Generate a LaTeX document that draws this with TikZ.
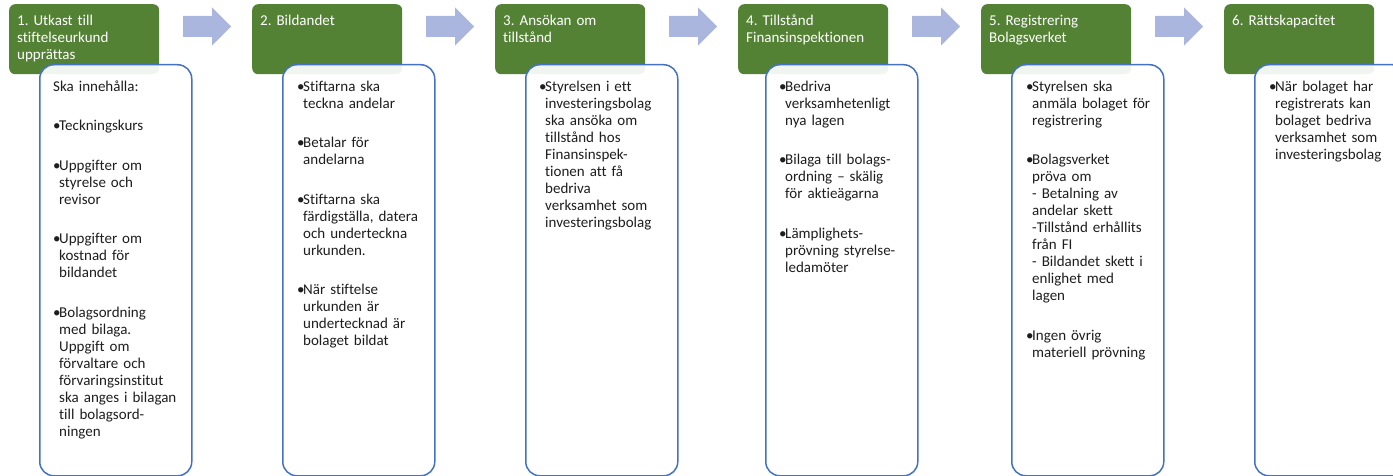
\documentclass[tikz,border=0pt]{standalone}
\usepackage{fontspec}
\setmainfont{Carlito}[Ligatures={TeX,NoCommon}]
\usetikzlibrary{calc}

\definecolor{hdrgreen}{RGB}{84,130,53}
\definecolor{boxblue}{RGB}{68,114,196}
\definecolor{flowarrow}{RGB}{170,182,221}
\definecolor{bodyink}{RGB}{30,30,30}

\frenchspacing
% fixed first-line height so that baselines sit at known offsets
\newcommand\firstline{\rule{0pt}{12pt}}
% bulleted paragraph with hanging indent
\newcommand\bpt[1]{\noindent\hangindent=6pt\hangafter=1\firstline\makebox[6pt][l]{\textbullet}\ignorespaces#1\par}
% paragraph without bullet
\newcommand\plain[1]{\noindent\firstline#1\par}
\newcommand\gap{\vspace{22.5pt}}

\tikzset{
  header/.style={anchor=north west, rectangle, rounded corners=6pt, fill=hdrgreen,
    minimum width=150pt, minimum height=70pt, inner sep=0pt},
  headtext/.style={anchor=north west, inner sep=0pt, text width=140pt, text=white,
    font=\fontsize{15}{17}\selectfont, execute at begin node={\raggedright\parindent=0pt}},
  panel/.style={anchor=north west, rectangle, rounded corners=14pt, draw=boxblue,
    line width=1.5pt, fill=white, fill opacity=0.92, minimum width=152pt,
    minimum height=411pt, inner sep=0pt},
  paneltext/.style={anchor=north west, inner sep=0pt, text width=135pt, text=bodyink,
    font=\fontsize{15}{17}\selectfont,
    execute at begin node={\raggedright\parskip=0pt\parindent=0pt}},
  flow/.style={fill=flowarrow}
}

\begin{document}
\begin{tikzpicture}[x=1pt, y=-1pt]
\useasboundingbox (0,0) rectangle (1393,476);
\clip (0,0) rectangle (1393,476);

% step headers
\node[header] (h1) at (9,4) {};
\node[header] (h2) at (252,4) {};
\node[header] (h3) at (495,4) {};
\node[header] (h4) at (738,4) {};
\node[header] (h5) at (981,4) {};
\node[header] (h6) at (1224,4) {};

% detail panels, partly covering the headers
\node[panel] (p1) at (39,64) {};
\node[panel] (p2) at (282,64) {};
\node[panel] (p3) at (525,64) {};
\node[panel] (p4) at (765,64) {};
\node[panel] (p5) at (1011,64) {};
\node[panel] (p6) at (1254,64) {};

% header titles
\node[headtext] (t1) at ($(h1.north west)+(8,9)$) {\plain{1. Utkast till\newline stiftelseurkund\newline upprättas}};
\node[headtext] (t2) at ($(h2.north west)+(8,9)$) {\plain{2. Bildandet}};
\node[headtext] (t3) at ($(h3.north west)+(8,9)$) {\plain{3. Ansökan om\newline tillstånd}};
\node[headtext] (t4) at ($(h4.north west)+(8,9)$) {\plain{4. Tillstånd\newline Finansinspektionen}};
\node[headtext] (t5) at ($(h5.north west)+(8,9)$) {\plain{5. Registrering\newline Bolagsverket}};
\node[headtext] (t6) at ($(h6.north west)+(8,9)$) {\plain{6. Rättskapacitet}};

% panel contents
\node[paneltext] (c1) at ($(p1.north west)+(14,15)$) {%
  \plain{Ska innehålla:}\gap
  \bpt{Teckningskurs}\gap
  \bpt{Uppgifter om\newline styrelse och\newline revisor}\gap
  \bpt{Uppgifter om\newline kostnad för\newline bildandet}\gap
  \bpt{Bolagsordning\newline med bilaga.\newline Uppgift om\newline förvaltare och\newline förvaringsinstitut\newline ska anges i bilagan\newline till bolagsord-\newline ningen}};

\node[paneltext] (c2) at ($(p2.north west)+(15,15)$) {%
  \bpt{Stiftarna ska\newline teckna andelar}\gap
  \bpt{Betalar för\newline andelarna}\gap
  \bpt{Stiftarna ska\newline färdigställa, datera\newline och underteckna\newline urkunden.}\gap
  \bpt{När stiftelse\newline urkunden är\newline undertecknad är\newline bolaget bildat}};

\node[paneltext] (c3) at ($(p3.north west)+(14,15)$) {%
  \bpt{Styrelsen i ett\newline investeringsbolag\newline ska ansöka om\newline tillstånd hos\newline Finansinspek-\newline tionen att få\newline bedriva\newline verksamhet som\newline investeringsbolag}};

\node[paneltext] (c4) at ($(p4.north west)+(14,15)$) {%
  \bpt{Bedriva\newline verksamhetenligt\newline nya lagen}\gap
  \bpt{Bilaga till bolags-\newline ordning – skälig\newline för aktieägarna}\gap
  \bpt{Lämplighets-\newline prövning styrelse-\newline ledamöter}};

\node[paneltext] (c5) at ($(p5.north west)+(15,15)$) {%
  \bpt{Styrelsen ska\newline anmäla bolaget för\newline registrering}\gap
  \bpt{Bolagsverket\newline pröva om\newline - Betalning av\newline andelar skett\newline -Tillstånd erhållits\newline från FI\newline - Bildandet skett i\newline enlighet med\newline lagen}\gap
  \bpt{Ingen övrig\newline materiell prövning}};

\node[paneltext] (c6) at ($(p6.north west)+(15,15)$) {%
  \bpt{När bolaget har\newline registrerats kan\newline bolaget bedriva\newline verksamhet som\newline investeringsbolag}};

% block arrows between the steps
\foreach \n/\x in {1/183,2/426,3/669,4/912,5/1155}{
  \coordinate (a\n) at (\x,26.5);
  \fill[flow] (a\n) ++(0,-10.5) -- ++(29,0) -- ++(0,-8.5) -- ++(19,19)
    -- ++(-19,19) -- ++(0,-8.5) -- ++(-29,0) -- cycle;
}
\end{tikzpicture}
\end{document}
